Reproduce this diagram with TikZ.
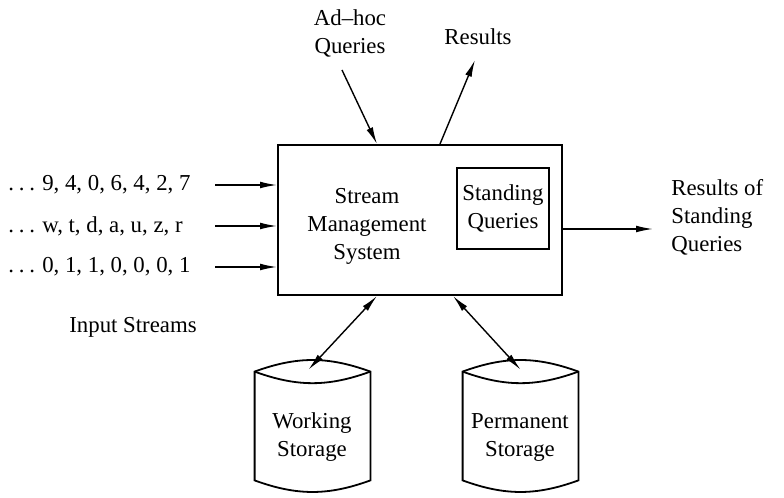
\documentclass[tikz,border=0pt]{standalone}
\usepackage{fontspec}
\setmainfont{Liberation Serif}
\usetikzlibrary{positioning,arrows.meta}
\tikzset{
  sysbox/.style={draw, line width=1pt, minimum width=142pt, minimum height=75pt},
  querybox/.style={draw, line width=0.9pt, minimum width=46pt, minimum height=40.5pt},
  drum/.style={minimum width=57.5pt, minimum height=54pt, inner sep=0pt},
  store/.style={line width=0.9pt},
  flow/.style={line width=0.7pt, -{Latex[length=8.5pt,width=3.4pt]}},
  dflow/.style={line width=0.7pt, {Latex[length=8.5pt,width=3.4pt]}-{Latex[length=8.5pt,width=3.4pt]}},
  txt/.style={font=\fontsize{11.4}{14}\selectfont, align=center, inner sep=0pt}
}

\begin{document}
\begin{tikzpicture}[x=0.5pt, y=0.5pt]
  \useasboundingbox (0,0) rectangle (784,498);

  \node[sysbox] (sms) at (420,278) {};
  \node[txt] (smslabel) at (367,272) {Stream\\Management\\System};
  \node[querybox, txt] (sq) at (503,289.5) {Standing\\Queries};

  \node[txt, anchor=west] (s1) at (8,313) {.\hspace{2.4pt}.\hspace{2.4pt}.\hspace{3.6pt}9, 4, 0, 6, 4, 2, 7};
  \node[txt, anchor=west] (s2) at (8,272) {.\hspace{2.4pt}.\hspace{2.4pt}.\hspace{3.6pt}w, t, d, a, u, z, r};
  \node[txt, anchor=west] (s3) at (8,231) {.\hspace{2.4pt}.\hspace{2.4pt}.\hspace{3.6pt}0, 1, 1, 0, 0, 0, 1};
  \foreach \s in {s1,s2,s3}
    \draw[flow] ([xshift=103.5pt]\s.west) -- (\s.west -| sms.west);
  \node[txt] (inlabel) at (133,171) {Input Streams};

  \node[txt] (adhoc) at (350,465) {Ad--hoc\\Queries};
  \coordinate (adhocout) at (342,428);
  \draw[flow] (adhocout) -- ([xshift=-21.5pt]sms.north);

  \node[txt] (res) at (478,461) {Results};
  \coordinate (resin) at (475,438);
  \draw[flow] ([xshift=10pt]sms.north) -- (resin);

  \node[txt, align=left, anchor=west] (rsq) at (671,281) {Results of\\Standing\\Queries};
  \coordinate (rsqin) at (653,269);
  \draw[flow] (rsqin -| sms.east) -- (rsqin);

  \node[drum] (ws) at (312.5,72) {};
  \node[txt] (wslabel) at (312,60.5) {Working\\Storage};
  \node[drum] (ps) at (520.5,72) {};
  \node[txt] (pslabel) at (520,60.5) {Permanent\\Storage};
  \foreach \c in {ws,ps} {
    \draw[store] (\c.north west) to[bend left=20] (\c.north east) -- (\c.south east)
      to[bend left=20] (\c.south west) -- cycle;
    \draw[store] (\c.north west) to[bend right=20] (\c.north east);
  }

  \draw[dflow] ([xshift=-21.5pt]sms.south) -- ([xshift=-2pt,yshift=1pt]ws.north);
  \draw[dflow] ([xshift=16.5pt]sms.south) -- ([yshift=1pt]ps.north);
\end{tikzpicture}
\end{document}
